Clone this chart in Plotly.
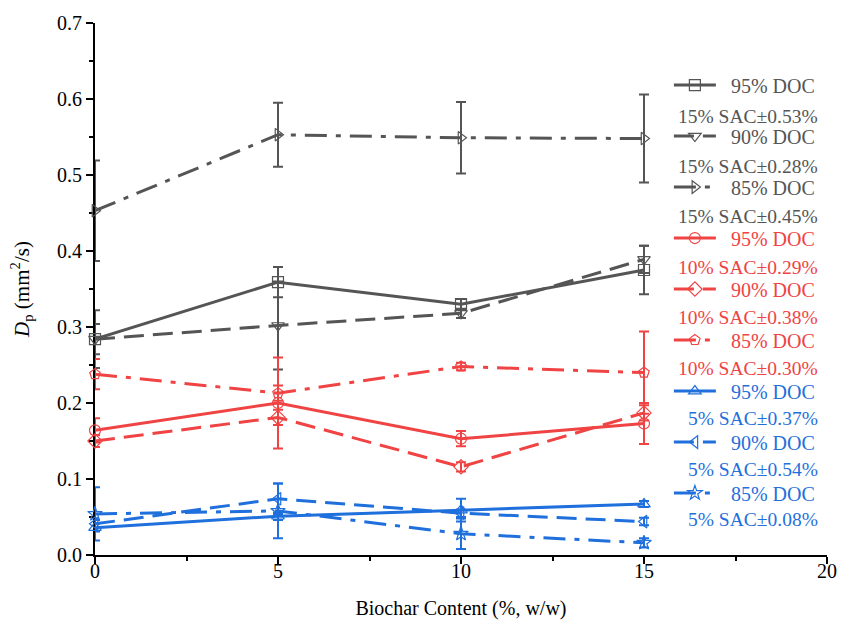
import plotly.graph_objects as go

# ---------------- data ----------------
biochar = [0, 5, 10, 15]

doc_labels = ["95% DOC", "90% DOC", "85% DOC",
              "95% DOC", "90% DOC", "85% DOC",
              "95% DOC", "90% DOC", "85% DOC"]
sac_labels = ["15% SAC±0.53%", "15% SAC±0.28%", "15% SAC±0.45%",
              "10% SAC±0.29%", "10% SAC±0.38%", "10% SAC±0.30%",
              "5% SAC±0.37%", "5% SAC±0.54%", "5% SAC±0.08%"]

sac15_doc95 = [0.284, 0.359, 0.330, 0.375]
sac15_doc95_err = [0.038, 0.020, 0.007, 0.032]
sac15_doc90 = [0.284, 0.302, 0.318, 0.389]
sac15_doc90_err = [0.020, 0.058, 0.006, 0.018]
sac15_doc85 = [0.453, 0.553, 0.549, 0.548]
sac15_doc85_err = [0.066, 0.042, 0.047, 0.058]

sac10_doc95 = [0.164, 0.200, 0.153, 0.173]
sac10_doc95_err = [0.016, 0.060, 0.010, 0.027]
sac10_doc90 = [0.150, 0.181, 0.116, 0.187]
sac10_doc90_err = [0.008, 0.010, 0.006, 0.010]
sac10_doc85 = [0.238, 0.213, 0.248, 0.240]
sac10_doc85_err = [0.020, 0.010, 0.005, 0.054]

sac5_doc95 = [0.036, 0.051, 0.059, 0.067]
sac5_doc95_err = [0.005, 0.005, 0.015, 0.004]
sac5_doc90 = [0.041, 0.074, 0.055, 0.044]
sac5_doc90_err = [0.005, 0.020, 0.005, 0.005]
sac5_doc85 = [0.054, 0.058, 0.028, 0.016]
sac5_doc85_err = [0.035, 0.036, 0.020, 0.006]

values = [sac15_doc95, sac15_doc90, sac15_doc85,
          sac10_doc95, sac10_doc90, sac10_doc85,
          sac5_doc95, sac5_doc90, sac5_doc85]
errors = [sac15_doc95_err, sac15_doc90_err, sac15_doc85_err,
          sac10_doc95_err, sac10_doc90_err, sac10_doc85_err,
          sac5_doc95_err, sac5_doc90_err, sac5_doc85_err]

# ---------------- styles ----------------
GRAY, RED, BLUE = "#555555", "#F04343", "#1F6FDC"
colors = [GRAY] * 3 + [RED] * 3 + [BLUE] * 3
symbols = ["square-open", "triangle-down-open", "triangle-right-open",
           "circle-open", "diamond-open", "pentagon-open",
           "triangle-up-open", "triangle-left-open", "star-open"]
dashes = ["solid", "20px,9px", "22px,9px,5px,9px"] * 3

FONT = "Liberation Serif"

fig = go.Figure()
for i in range(9):
    c = colors[i]
    fig.add_trace(go.Scatter(
        x=biochar, y=values[i],
        mode="lines+markers",
        name=f"<span style='color:{c}'>\u00a0\u00a0{doc_labels[i]}</span>",
        legendgroup=f"g{i}",
        line=dict(color=c, width=3, dash=dashes[i]),
        marker=dict(symbol=symbols[i], size=11, color=c, line=dict(width=1.2, color=c)),
        error_y=dict(type="data", array=errors[i], color=c, thickness=2, width=5),
        cliponaxis=False,
    ))

# second legend line (SAC info) as text annotations
ann = []
for i in range(9):
    ann.append(dict(
        xref="paper", yref="paper",
        x=0.99, y=(555 - (112 + i * 50.9)) / 537,
        xanchor="right", yanchor="middle",
        text=sac_labels[i], showarrow=False,
        font=dict(family=FONT, size=19.5, color=colors[i]),
    ))

fig.update_layout(
    width=854, height=628,
    margin=dict(l=95, r=27, t=18, b=73),
    plot_bgcolor="white", paper_bgcolor="white",
    font=dict(family=FONT, size=20, color="black"),
    showlegend=True,
    legend=dict(
        x=0.784, y=0.92, xanchor="left", yanchor="top",
        bgcolor="rgba(0,0,0,0)", borderwidth=0,
        font=dict(family=FONT, size=20),
        tracegroupgap=22, valign="middle", itemwidth=42,
    ),
    annotations=ann,
    xaxis=dict(
        range=[0, 20], dtick=5, tick0=0,
        showline=True, linecolor="black", linewidth=2,
        ticks="outside", ticklen=7, tickwidth=2, tickcolor="black",
        minor=dict(ticks="outside", dtick=2.5, ticklen=4, tickwidth=2, tickcolor="black"),
        showgrid=False, zeroline=False, layer="below traces",
        ticklabelstandoff=-10,
        title=dict(text="Biochar Content (%, w/w)", font=dict(family=FONT, size=20), standoff=20),
        tickfont=dict(family=FONT, size=20),
    ),
    yaxis=dict(
        range=[0, 0.7], dtick=0.1, tick0=0, tickformat=".1f",
        showline=True, linecolor="black", linewidth=2,
        ticks="outside", ticklen=7, tickwidth=2, tickcolor="black",
        minor=dict(ticks="outside", dtick=0.05, ticklen=4, tickwidth=2, tickcolor="black"),
        showgrid=False, zeroline=False, layer="below traces",
        title=dict(text="<i>D</i><sub>p</sub> (mm<sup>2</sup>/s)", font=dict(family=FONT, size=21), standoff=22),
        tickfont=dict(family=FONT, size=20),
    ),
)

fig.write_html("out.html")
